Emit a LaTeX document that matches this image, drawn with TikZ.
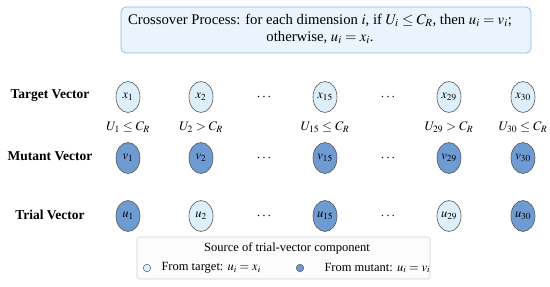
\documentclass[tikz,border=0pt]{standalone}
\usepackage{mathptmx}
\usepackage{fontspec}
\setmainfont{Liberation Serif}
\usetikzlibrary{shapes.geometric}
\definecolor{lightc}{HTML}{DDEFFA}
\definecolor{darkc}{HTML}{6F9BD3}
\definecolor{boxfill}{HTML}{EBF4FD}
\definecolor{boxdraw}{HTML}{8DB8E6}
\definecolor{edgec}{HTML}{555555}
\begin{document}
\begin{tikzpicture}[x=1pt,y=-1pt,
  cell/.style={ellipse,draw=edgec,line width=0.6pt,minimum width=24pt,minimum height=31pt,inner sep=0pt,font=\fontsize{12.5}{14}\selectfont},
  lightcell/.style={cell,fill=lightc},
  darkcell/.style={cell,fill=darkc},
  rowlabel/.style={font=\fontsize{13.5}{15}\selectfont\bfseries},
  cond/.style={font=\fontsize{13}{14}\selectfont},
  dotsl/.style={font=\fontsize{14}{14}\selectfont},
  legtext/.style={font=\fontsize{12.5}{14}\selectfont}]
\useasboundingbox (0,0) rectangle (550,287);
% top box
\node[draw=boxdraw,fill=boxfill,rounded corners=5pt,line width=0.7pt,minimum width=410pt,minimum height=46pt,inner sep=0pt] (top) at (326,30) {};
\node[align=center,font=\fontsize{14.7}{17}\selectfont] (toptext) at (320,29)
  {Crossover Process: for each dimension $i$, if $U_i\le C_R$, then $u_i=v_i$;\\ otherwise, $u_i=x_i$.};
% row labels
\node[rowlabel] (lt) at (50,96) {Target Vector};
\node[rowlabel] (lm) at (50,156) {Mutant Vector};
\node[rowlabel] (lr) at (50,215) {Trial Vector};
% target row
\node[lightcell] (x1) at (128,97) {$x_1$};
\node[lightcell] (x2) at (201,97) {$x_2$};
\node[dotsl] (dt1) at (264,97) {$\cdots$};
\node[lightcell] (x15) at (325,97) {$x_{15}$};
\node[dotsl] (dt2) at (388,97) {$\cdots$};
\node[lightcell] (x29) at (449,97) {$x_{29}$};
\node[lightcell] (x30) at (523,97) {$x_{30}$};
% conditions
\node[cond] (c1) at (128,127) {$U_1\le C_R$};
\node[cond] (c2) at (201,127) {$U_2> C_R$};
\node[cond] (c15) at (325,127) {$U_{15}\le C_R$};
\node[cond] (c29) at (449,127) {$U_{29}> C_R$};
\node[cond] (c30) at (523,127) {$U_{30}\le C_R$};
% mutant row
\node[darkcell] (v1) at (128,158) {$v_1$};
\node[darkcell] (v2) at (201,158) {$v_2$};
\node[dotsl] (dm1) at (264,158) {$\cdots$};
\node[darkcell] (v15) at (325,158) {$v_{15}$};
\node[dotsl] (dm2) at (388,158) {$\cdots$};
\node[darkcell] (v29) at (449,158) {$v_{29}$};
\node[darkcell] (v30) at (523,158) {$v_{30}$};
% trial row
\node[darkcell] (u1) at (128,216) {$u_1$};
\node[lightcell] (u2) at (201,216) {$u_2$};
\node[dotsl] (dr1) at (264,216) {$\cdots$};
\node[darkcell] (u15) at (325,216) {$u_{15}$};
\node[dotsl] (dr2) at (388,216) {$\cdots$};
\node[lightcell] (u29) at (449,216) {$u_{29}$};
\node[darkcell] (u30) at (523,216) {$u_{30}$};
% legend
\node[draw=black!18,fill=black!1,rounded corners=2pt,line width=0.6pt,minimum width=293pt,minimum height=42pt,inner sep=0pt] (leg) at (283.5,258) {};
\node[legtext] (legt) at (287,248) {Source of trial-vector component};
\node[circle,draw=edgec,fill=lightc,line width=0.5pt,minimum size=7.5pt,inner sep=0pt] (ml) at (147,268) {};
\node[legtext,anchor=west] (tl) at (158,268) {From target: $u_i=x_i$};
\node[circle,draw=edgec,fill=darkc,line width=0.5pt,minimum size=7.5pt,inner sep=0pt] (md) at (300,268) {};
\node[legtext,anchor=west] (td) at (321,268) {From mutant: $u_i=v_i$};
\end{tikzpicture}
\end{document}
